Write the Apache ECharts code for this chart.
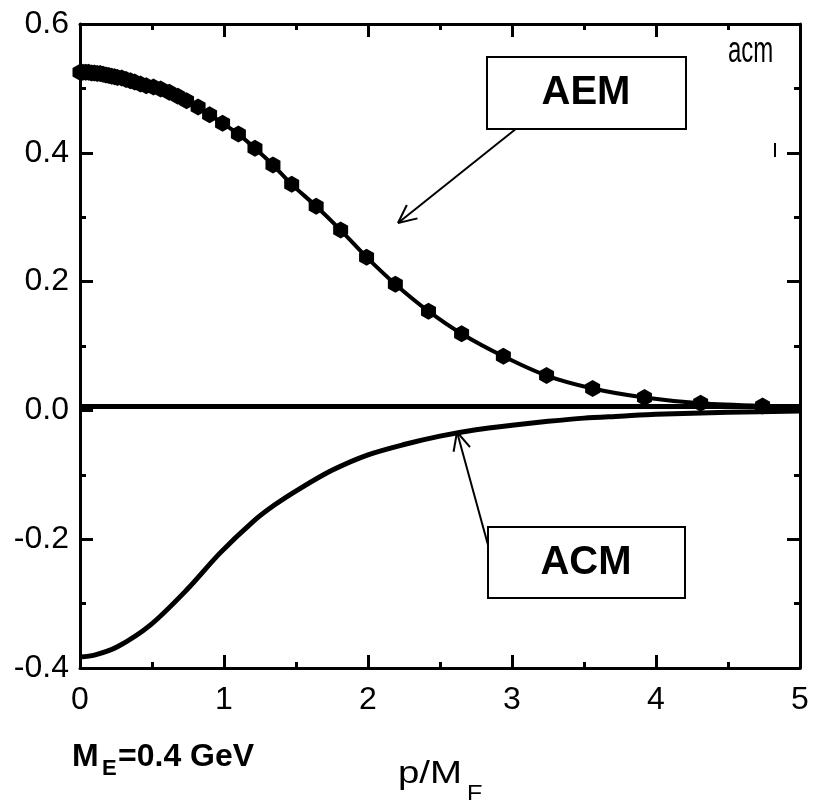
<!DOCTYPE html>
<html>
<head>
<meta charset="utf-8">
<script src="https://cdn.jsdelivr.net/npm/echarts@6/dist/echarts.min.js"></script>
<style>
  html, body { margin: 0; padding: 0; background: #fff; }
  #chart { width: 817px; height: 800px; }
</style>
</head>
<body>
<div id="chart"></div>
<script>
// Electric form factor curve (hexagon markers), in units of p/M_E
const aemX = [0.0, 0.02, 0.04, 0.06, 0.08, 0.10, 0.12, 0.14, 0.16, 0.18, 0.20, 0.22, 0.24, 0.26,
  0.29, 0.32, 0.35, 0.38, 0.42, 0.46, 0.51, 0.56, 0.62, 0.68, 0.74, 0.82, 0.90, 0.99, 1.10,
  1.215, 1.34, 1.47, 1.64, 1.81, 1.99, 2.19, 2.42, 2.65, 2.94, 3.24, 3.56, 3.92, 4.31, 4.74];
const aemY = [0.525, 0.525, 0.525, 0.525, 0.524, 0.524, 0.523, 0.523, 0.522, 0.521, 0.520, 0.519,
  0.518, 0.517, 0.516, 0.514, 0.512, 0.510, 0.507, 0.504, 0.502, 0.499, 0.494, 0.488, 0.481,
  0.471, 0.459, 0.446, 0.429, 0.407, 0.381, 0.351, 0.317, 0.280, 0.238, 0.196, 0.154, 0.119,
  0.084, 0.054, 0.034, 0.020, 0.011, 0.007];

// Magnetic form factor curve (solid line)
const acmX = [0.0, 0.1, 0.26, 0.49, 0.74, 0.97, 1.2, 1.35, 1.53, 1.75, 2.0, 2.25, 2.5, 2.75,
  3.0, 3.25, 3.5, 3.75, 4.0, 4.5, 5.0];
const acmY = [-0.383, -0.380, -0.367, -0.333, -0.279, -0.222, -0.173, -0.147, -0.121, -0.093,
  -0.069, -0.053, -0.040, -0.030, -0.023, -0.017, -0.012, -0.009, -0.006, -0.003, -0.001];

// Flat reference line
const flatX = [0, 5];
const flatY = [0.006, 0.006];

// Axis ranges and ticks
const xRange = [0, 5];
const xStep = 1;
const yRange = [-0.4, 0.6];
const yStep = 0.2;

const zip = (xs, ys) => xs.map((x, i) => [x, ys[i]]);

const FONT = 'Liberation Sans, Arial, sans-serif';
const hexagon = 'path://M0,-1 L0.866,-0.5 L0.866,0.5 L0,1 L-0.866,0.5 L-0.866,-0.5 Z';

function axisStyle(showLabel, margin, fmt) {
  return {
    axisLine: { show: true, onZero: false, lineStyle: { color: '#000', width: 3 } },
    axisTick: { show: true, inside: true, length: 13, lineStyle: { color: '#000', width: 3 } },
    minorTick: { show: true, splitNumber: 2, length: 6, lineStyle: { color: '#000', width: 3 } },
    splitLine: { show: false },
    minorSplitLine: { show: false },
    axisLabel: { show: showLabel, color: '#000', fontFamily: FONT, fontSize: 32, margin: margin, formatter: fmt }
  };
}

const xBase = { type: 'value', min: xRange[0], max: xRange[1], interval: xStep };
const yBase = { type: 'value', min: yRange[0], max: yRange[1], interval: yStep };
const xFmt = v => String(v);
const yFmt = v => v.toFixed(1);

const chart = echarts.init(document.getElementById('chart'), null, { renderer: 'canvas' });

// Arrow helper for the annotation callouts
function arrow(x1, y1, x2, y2, armLen, spread) {
  const ang = Math.atan2(y1 - y2, x1 - x2);
  const a1 = ang + spread, a2 = ang - spread;
  const st = { stroke: '#000', lineWidth: 2 };
  return [
    { type: 'line', shape: { x1, y1, x2, y2 }, style: st, z: 20 },
    { type: 'line', shape: { x1: x2, y1: y2, x2: x2 + armLen * Math.cos(a1), y2: y2 + armLen * Math.sin(a1) }, style: st, z: 20 },
    { type: 'line', shape: { x1: x2, y1: y2, x2: x2 + armLen * Math.cos(a2), y2: y2 + armLen * Math.sin(a2) }, style: st, z: 20 }
  ];
}

function label(text, x, y, font, extra) {
  return Object.assign({
    type: 'text', x, y, z: 30,
    style: { text, font, fill: '#000', textAlign: 'left', textVerticalAlign: 'middle', align: 'left', verticalAlign: 'middle' }
  }, extra || {});
}

const option = {
  backgroundColor: '#fff',
  animation: false,
  grid: { left: 80, right: 17, top: 24, bottom: 132, containLabel: false },
  xAxis: [
    Object.assign({}, xBase, axisStyle(true, 16, xFmt), { position: 'bottom' }),
    Object.assign({}, xBase, axisStyle(false, 16, xFmt), { position: 'top' })
  ],
  yAxis: [
    Object.assign({}, yBase, axisStyle(true, 11, yFmt), { position: 'left' }),
    Object.assign({}, yBase, axisStyle(false, 11, yFmt), { position: 'right' })
  ],
  series: [
    {
      name: 'flat', type: 'line', data: zip(flatX, flatY), showSymbol: false,
      lineStyle: { color: '#000', width: 5 }, z: 3
    },
    {
      name: 'ACM', type: 'line', data: zip(acmX, acmY), showSymbol: false, smooth: 0.3,
      lineStyle: { color: '#000', width: 5 }, z: 4
    },
    {
      name: 'AEM', type: 'line', data: zip(aemX, aemY), symbol: hexagon, symbolSize: [15, 17],
      showSymbol: true, showAllSymbol: true, smooth: 0.3,
      itemStyle: { color: '#000' }, lineStyle: { color: '#000', width: 4 }, z: 5
    }
  ],
  graphic: [
    // AEM callout
    { type: 'rect', shape: { x: 487, y: 57, width: 199, height: 72 }, style: { fill: '#fff', stroke: '#000', lineWidth: 2 }, z: 25 },
    { type: 'text', x: 586, y: 93, z: 30, style: { text: 'AEM', font: 'bold 40px ' + FONT, fill: '#000', textAlign: 'center', textVerticalAlign: 'middle', align: 'center', verticalAlign: 'middle' } },
    ...arrow(517, 128, 398, 223, 20, 0.44),
    // ACM callout
    { type: 'rect', shape: { x: 488, y: 527, width: 197, height: 71 }, style: { fill: '#fff', stroke: '#000', lineWidth: 2 }, z: 25 },
    { type: 'text', x: 586, y: 563, z: 30, style: { text: 'ACM', font: 'bold 40px ' + FONT, fill: '#000', textAlign: 'center', textVerticalAlign: 'middle', align: 'center', verticalAlign: 'middle' } },
    ...arrow(488, 545, 457, 432, 20, 0.44),
    // corner tag
    label('acm', 728, 52, '24px ' + FONT, { scaleY: 1.5 }),
    { type: 'line', shape: { x1: 775, y1: 143, x2: 775, y2: 157 }, style: { stroke: '#000', lineWidth: 2 }, z: 20 },
    // mass annotation
    label('M', 72, 757, 'bold 32px ' + FONT),
    label('E', 102, 769, 'bold 22px ' + FONT),
    label('=0.4 GeV', 118, 757, 'bold 32px ' + FONT),
    // x-axis title
    label('p/M', 398, 774, '32px ' + FONT, { scaleX: 1.2 }),
    label('E', 467, 795, '24px ' + FONT)
  ]
};

chart.setOption(option);
</script>
</body>
</html>
